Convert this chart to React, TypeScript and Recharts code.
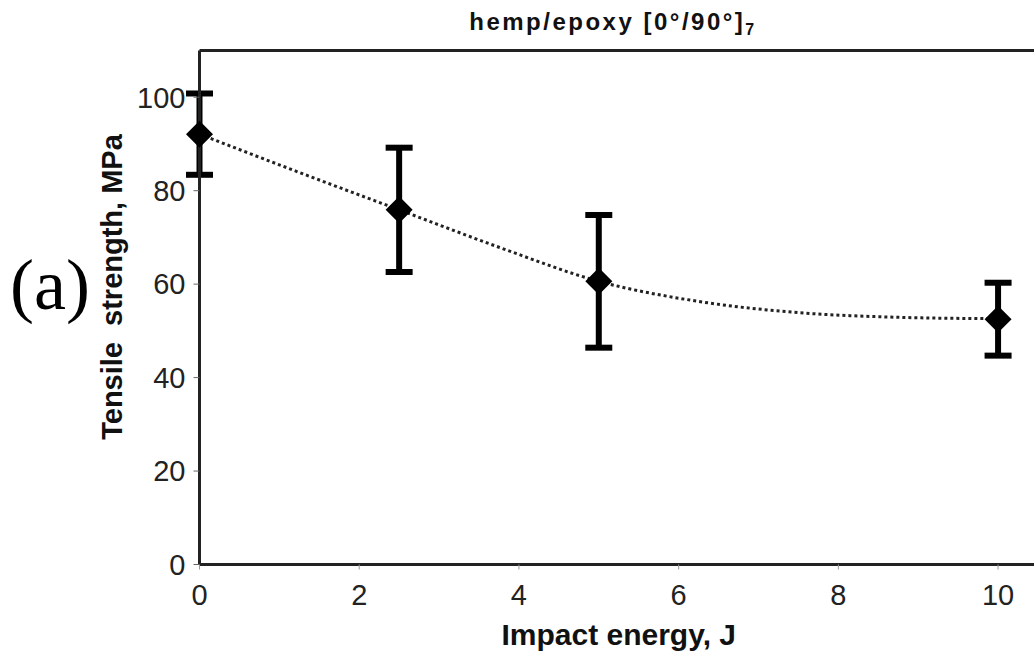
import React from 'react';
import {
  ComposedChart, Line, Scatter, ErrorBar, XAxis, YAxis, ReferenceLine,
} from 'recharts';

// measured points (impact energy J -> tensile strength MPa)
const energy = [0, 2.5, 5, 10];
const strength = [92.1, 75.9, 60.6, 52.5];
const spread = [8.7, 13.3, 14.2, 7.8];

// dotted smoothed trend
const trendEnergy = [0, 1.25, 2.5, 3.75, 5, 6.25, 7.5, 8.75, 10];
const trendStrength = [92.1, 83.9, 75.9, 67.9, 60.6, 56.3, 53.9, 52.9, 52.6];

const xTicks = [0, 2, 4, 6, 8, 10];
const yTicks = [0, 20, 40, 60, 80, 100];

const points = energy.map((x, i) => ({ x, y: strength[i], err: spread[i] }));
const trend = trendEnergy.map((x, i) => ({ x, t: trendStrength[i] }));

const FONT = '"Liberation Sans", Arial, sans-serif';

const Diamond = (props: any) => {
  const { cx, cy } = props;
  if (cx == null || cy == null) return null;
  const w = 13.5;
  const h = 13.5;
  return (
    <polygon
      points={`${cx - w},${cy} ${cx},${cy - h} ${cx + w},${cy} ${cx},${cy + h}`}
      fill="#000"
    />
  );
};

export default function App() {
  return (
    <div
      style={{
        position: 'fixed', top: 0, left: 0, width: 1034, height: 659,
        overflow: 'hidden', background: '#fff', fontFamily: FONT,
      }}
    >
      <ComposedChart
        width={1042}
        height={659}
        margin={{ top: 50.5, right: 4, left: 39.5, bottom: 0 }}
      >
        <XAxis
          type="number"
          dataKey="x"
          domain={[0, 10.5]}
          ticks={xTicks}
          height={94.5}
          axisLine={{ stroke: '#222', strokeWidth: 3 }}
          tickLine={{ stroke: '#999' }}
          tickSize={5}
          tickMargin={15}
          tick={{ fill: '#222', fontSize: 29, fontFamily: FONT }}
          label={{
            value: 'Impact energy, J',
            position: 'insideBottom',
            offset: 14,
            fill: '#111',
            fontSize: 30,
            fontWeight: 'bold',
            fontFamily: FONT,
          }}
        />
        <YAxis
          type="number"
          domain={[0, 110]}
          ticks={yTicks}
          width={160}
          allowDataOverflow
          axisLine={{ stroke: '#222', strokeWidth: 3 }}
          tickLine={{ stroke: '#666' }}
          tickSize={6}
          tickMargin={8}
          tick={{ fill: '#222', fontSize: 29, fontFamily: FONT }}
        />
        <ReferenceLine y={110} stroke="#222" strokeWidth={3} ifOverflow="visible" />
        <Line
          data={trend}
          dataKey="t"
          type="monotone"
          stroke="#222"
          strokeWidth={3}
          strokeDasharray="3 3"
          dot={false}
          activeDot={false}
          isAnimationActive={false}
        />
        <Scatter data={points} dataKey="y" shape={Diamond} isAnimationActive={false}>
          <ErrorBar
            dataKey="err"
            direction="y"
            width={13.5}
            strokeWidth={6}
            stroke="#000"
            isAnimationActive={false}
          />
        </Scatter>
      </ComposedChart>

      {/* title, panel letter and y-axis title */}
      <svg
        width={1034}
        height={659}
        style={{ position: 'absolute', top: 0, left: 0, pointerEvents: 'none' }}
      >
        <text
          x={613}
          y={30}
          textAnchor="middle"
          fontFamily={FONT}
          fontWeight="bold"
          fontSize={24}
          letterSpacing={2.5}
          fill="#111"
        >
          hemp/epoxy [0°/90°]
          <tspan fontSize={16} dy={5}>7</tspan>
        </text>
        <text
          x={10}
          y={309}
          fontFamily='"Liberation Serif", "Times New Roman", serif'
          fontSize={72}
          fill="#000"
        >
          (a)
        </text>
        <text
          x={122}
          y={287}
          transform="rotate(-90 122 287)"
          textAnchor="middle"
          fontFamily={FONT}
          fontWeight="bold"
          fontSize={29}
          fill="#111"
          style={{ whiteSpace: 'pre' }}
        >
          {'Tensile  strength, MPa'}
        </text>
      </svg>
    </div>
  );
}
